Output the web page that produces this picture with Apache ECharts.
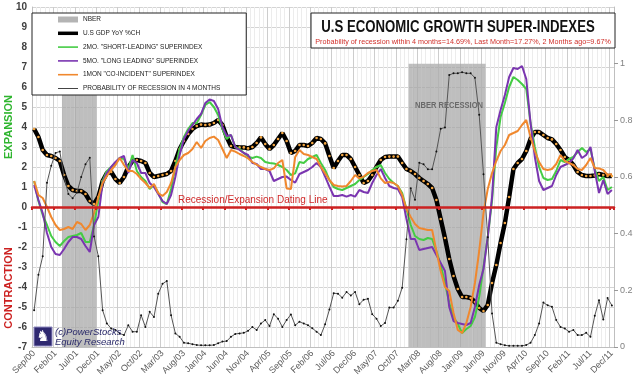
<!DOCTYPE html>
<html><head><meta charset="utf-8">
<script src="https://cdn.jsdelivr.net/npm/echarts@6/dist/echarts.min.js"></script>
<style>html,body{margin:0;padding:0;background:#fff}#c{width:640px;height:388px}</style>
</head><body><div id="c"></div>
<script>
// ---- categories (monthly, Sep/00 .. Dec/11) ----
const monthNames = ['Jan','Feb','Mar','Apr','May','Jun','Jul','Aug','Sep','Oct','Nov','Dec'];
const categories = [];
for (let k = 0; k < 136; k++) {
  const m = (8 + k) % 12, y = Math.floor((8 + k) / 12);
  categories.push(monthNames[m] + '/' + String(y).padStart(2, '0'));
}
// ---- NBER recession flags (secondary axis) ----
const nberMonths = [[7,14],[88,105]];
const nber = categories.map((c,i)=> nberMonths.some(r=>i>=r[0]&&i<=r[1]) ? 1 : 0);
// ---- series values ----
const gdp = [3.9,3.5,2.85,2.6,2.55,2.45,2.3,1.6,1.05,0.85,0.8,0.8,0.65,0.3,0.15,0.5,1.3,1.7,1.75,1.4,
1.2,1.5,2.0,2.3,2.35,2.3,2.2,1.7,1.5,1.55,1.6,1.65,1.8,2.3,2.9,3.3,3.65,3.9,4.05,4.12,
4.1,4.12,4.2,4.35,4.1,3.5,3.05,3.0,2.98,2.98,2.93,3.0,3.2,3.48,3.15,2.9,3.1,3.4,3.7,3.3,
2.7,2.8,3.1,3.1,3.05,3.2,3.45,3.4,3.18,2.55,1.95,2.3,2.6,2.6,2.4,2.0,1.6,1.2,1.3,1.6,
2.0,2.35,2.5,2.52,2.52,2.52,2.2,1.9,1.8,1.65,1.45,1.3,1.15,0.95,0.35,-0.6,-1.55,-2.6,-3.45,-4.1,
-4.5,-4.5,-4.55,-4.75,-5.05,-5.2,-4.9,-3.8,-2.9,-1.8,-0.8,0.5,1.9,2.2,2.4,2.8,3.4,3.75,3.75,3.6,
3.45,3.38,3.15,2.85,2.5,2.35,2.1,1.75,1.6,1.55,1.55,1.58,1.65,1.6,1.55,1.55];
const shortLeading = [1.3,0.3,-0.4,-0.9,-1.45,-1.75,-1.95,-1.7,-1.5,-1.45,-1.4,-1.3,-1.75,-1.75,-0.9,0.3,1.3,1.8,2.0,2.2,
2.45,2.4,1.9,2.6,1.8,1.5,1.3,0.9,1.1,0.7,0.25,0.15,0.9,2.0,2.9,3.5,3.9,4.2,4.2,4.6,
5.1,5.25,5.0,4.6,3.9,3.4,3.6,3.0,2.9,2.7,2.52,2.45,2.52,2.45,2.25,2.2,2.18,2.1,2.0,1.85,
1.6,1.68,2.25,2.2,2.4,2.5,2.6,2.2,1.85,1.35,1.0,0.9,0.85,0.95,1.05,1.15,1.35,1.5,1.65,1.85,
2.0,2.1,1.7,1.4,1.2,1.05,0.7,-0.1,-0.9,-1.45,-1.6,-1.65,-1.55,-1.6,-2.2,-2.9,-3.8,-4.8,-5.5,-5.85,
-6.3,-6.1,-5.95,-5.5,-4.5,-3.0,-1.5,0.3,3.0,4.5,5.2,6.0,6.5,6.35,6.15,5.9,4.2,3.0,2.0,1.45,
1.35,1.4,1.8,2.35,2.25,2.4,2.5,2.75,2.95,2.75,2.9,1.9,1.3,1.5,0.85,1.0];
const longLeading = [1.1,0.35,-0.3,-1.3,-2.0,-2.35,-2.4,-2.1,-1.75,-1.5,-1.5,-1.6,-1.95,-2.25,-0.9,-0.5,1.2,1.7,2.0,2.25,
2.45,2.55,1.7,2.35,2.2,1.7,1.7,1.2,1.0,0.65,0.3,0.15,0.6,1.5,2.6,3.4,3.8,4.1,4.4,4.65,
5.2,5.38,5.3,4.9,4.0,3.55,3.6,3.0,2.85,2.7,2.6,2.2,2.15,1.9,1.9,1.8,1.3,1.4,1.5,1.52,
1.35,1.22,1.65,1.75,1.85,2.0,2.2,2.0,1.52,1.02,0.55,0.55,0.6,0.52,0.6,0.52,0.85,0.75,0.7,1.2,
1.6,1.9,1.45,1.05,0.95,0.9,0.5,-0.6,-1.6,-1.6,-2.15,-2.1,-2.05,-2.0,-2.4,-2.8,-3.2,-5.0,-5.7,-5.8,
-5.85,-5.9,-5.8,-5.0,-3.9,-3.1,-1.5,0.5,4.0,4.85,5.6,6.5,6.95,6.9,7.05,6.4,4.2,2.5,1.3,0.85,
0.95,1.05,1.6,2.0,2.1,2.2,2.43,2.85,2.45,2.6,3.0,1.8,0.7,1.35,0.65,0.85];
const coincident = [1.3,0.6,0.45,0.0,-0.5,-0.9,-1.15,-1.1,-1.0,-1.1,-0.75,-0.85,-1.15,-0.9,-0.3,0.5,1.2,1.55,1.85,2.1,
2.45,2.1,1.8,1.8,1.65,1.4,1.2,0.95,1.15,0.7,0.55,0.75,1.2,2.0,2.35,2.6,2.7,2.9,3.25,2.95,
3.3,3.45,3.52,3.35,2.9,2.45,2.85,2.77,2.65,2.55,2.43,2.25,2.12,2.0,1.9,1.85,1.93,2.2,2.35,0.93,
0.9,2.5,2.85,2.65,2.6,2.5,2.4,2.0,1.68,1.35,1.1,1.05,1.02,1.05,1.3,1.6,1.43,1.52,1.7,1.8,
1.85,1.43,1.2,1.25,1.2,1.05,0.6,-0.1,-0.5,-0.85,-1.05,-1.1,-1.15,-1.15,-2.2,-3.2,-4.0,-4.2,-5.3,-6.15,
-6.3,-5.8,-5.0,-3.8,-2.2,-0.3,0.9,1.7,2.3,2.8,3.1,3.6,3.7,3.8,4.1,4.35,3.5,2.8,2.25,1.9,
1.85,1.9,2.15,2.6,2.3,2.2,2.1,1.9,1.85,2.1,2.45,1.95,1.93,1.85,1.6,1.65];
const recessionProb = [0.13,0.255,0.32,0.58,0.64,0.685,0.69,0.6,0.54,0.525,0.545,0.6,0.645,0.668,0.39,0.32,0.13,0.083,0.065,0.06,
0.048,0.042,0.077,0.054,0.054,0.112,0.071,0.124,0.106,0.188,0.223,0.233,0.112,0.048,0.036,0.015,0.013,0.01,0.007,0.006,
0.006,0.006,0.007,0.013,0.019,0.021,0.036,0.046,0.048,0.05,0.057,0.071,0.06,0.083,0.095,0.074,0.116,0.1,0.071,0.095,
0.115,0.077,0.089,0.083,0.077,0.066,0.054,0.042,0.08,0.132,0.19,0.188,0.174,0.194,0.182,0.194,0.151,0.167,0.17,0.116,
0.1,0.074,0.085,0.139,0.139,0.163,0.209,0.38,0.56,0.52,0.65,0.645,0.627,0.627,0.69,0.77,0.775,0.96,0.966,0.966,
0.97,0.966,0.966,0.95,0.82,0.61,0.387,0.118,0.015,0.01,0.006,0.004,0.004,0.004,0.004,0.007,0.015,0.042,0.083,0.157,
0.147,0.142,0.095,0.071,0.065,0.054,0.06,0.042,0.042,0.05,0.036,0.11,0.165,0.0967,0.1727,0.1469];
// ---- axis ticks ----
const leftMin = -7, leftMax = 10, leftStep = 1;
const rightMin = 0, rightMax = 1.2, rightStep = 0.2;

const names = ['NBER','U.S GDP YoY %CH','2MO. "SHORT-LEADING" SUPERINDEX','5MO. "LONG LEADING" SUPERINDEX','1MON "CO-INCIDENT" SUPERINDEX','PROBABILITY OF RECESSION IN 4 MONTHS'];
const sans = "'Liberation Sans',Arial,sans-serif";
const lineIcon = h => 'path://M0,0 L20,0 L20,' + h + ' L0,' + h + ' Z';
const legendData = [
  {name: names[0], icon: lineIcon(6), itemStyle: {color: '#b4b4b4'}},
  {name: names[1], icon: lineIcon(3.5), itemStyle: {color: '#000'}},
  {name: names[2], icon: lineIcon(1.6), itemStyle: {color: '#44cc44'}},
  {name: names[3], icon: lineIcon(1.6), itemStyle: {color: '#7a35b0'}},
  {name: names[4], icon: lineIcon(1.6), itemStyle: {color: '#f0882e'}},
  {name: names[5], icon: lineIcon(1), itemStyle: {color: '#444'}}
];

const chart = echarts.init(document.getElementById('c'));
chart.setOption({
  animation: false,
  backgroundColor: '#fff',
  grid: {left: 32, right: 26, top: 7, bottom: 41},
  legend: {
    data: legendData, orient: 'vertical', left: 32, top: 13,
    backgroundColor: '#fff', borderColor: '#222', borderWidth: 1,
    padding: [3, 26, 3, 26], itemGap: 6.8, itemWidth: 20, itemHeight: 6, symbolKeepAspect: true,
    textStyle: {fontSize: 6.5, color: '#222', fontFamily: sans},
    selectedMode: false
  },
  xAxis: [
    {type: 'category', data: categories, position: 'bottom', z: 10,
     axisLine: {onZero: true, onZeroAxisIndex: 0, lineStyle: {color: '#cc2222', width: 2.5}},
     axisTick: {show: true, interval: 4, length: 3, lineStyle: {color: '#cc2222', width: 2}},
     axisLabel: {show: false}, splitLine: {show: false}},
    {type: 'category', data: categories, position: 'bottom',
     axisLine: {onZero: false, lineStyle: {color: '#bfbfbf'}},
     axisTick: {show: false},
     axisLabel: {interval: 4, rotate: 45, fontSize: 9, color: '#595959', margin: 5, fontFamily: sans},
     splitLine: {show: true, interval: 0, lineStyle: {color: '#ececec', width: 1}}},
    {type: 'category', data: categories, position: 'bottom',
     axisLine: {show: false, onZero: false}, axisTick: {show: false}, axisLabel: {show: false},
     splitLine: {show: true, interval: 4, lineStyle: {color: '#cdcdcd', width: 1}}}
  ],
  yAxis: [
    {type: 'value', min: leftMin, max: leftMax, interval: leftStep,
     axisLine: {show: true, lineStyle: {color: '#bfbfbf'}}, axisTick: {show: false},
     axisLabel: {fontSize: 10, fontWeight: 'bold', color: '#404040', margin: 5},
     splitLine: {lineStyle: {color: '#d4d4d4'}}},
    {type: 'value', min: rightMin, max: rightMax, interval: rightStep, position: 'right',
     axisLine: {show: true, lineStyle: {color: '#bfbfbf'}},
     axisTick: {show: true, length: 4, lineStyle: {color: '#999'}},
     axisLabel: {fontSize: 9, color: '#808080', margin: 6, showMaxLabel: false,
       formatter: v => String(+v.toFixed(1))},
     splitLine: {show: false}}
  ],
  series: [
    {name: names[0], type: 'bar', xAxisIndex: 1, yAxisIndex: 1, data: nber,
     barCategoryGap: '0%', barGap: '0%', itemStyle: {color: 'rgba(165,165,165,0.72)'}, z: 1, silent: true},
    {name: names[1], type: 'line', xAxisIndex: 1, yAxisIndex: 0, data: gdp,
     lineStyle: {color: '#000', width: 4.5}, symbol: 'circle', symbolSize: 2.6, showAllSymbol: true,
     itemStyle: {color: '#f5a742'}, z: 3},
    {name: names[2], type: 'line', xAxisIndex: 1, yAxisIndex: 0, data: shortLeading,
     lineStyle: {color: '#44cc44', width: 2}, itemStyle: {color: '#44cc44'}, symbol: 'none', z: 4},
    {name: names[3], type: 'line', xAxisIndex: 1, yAxisIndex: 0, data: longLeading,
     lineStyle: {color: '#7a35b0', width: 2}, itemStyle: {color: '#7a35b0'}, symbol: 'none', z: 4},
    {name: names[4], type: 'line', xAxisIndex: 1, yAxisIndex: 0, data: coincident,
     lineStyle: {color: '#f0882e', width: 2}, itemStyle: {color: '#f0882e'}, symbol: 'none', z: 4},
    {name: names[5], type: 'line', xAxisIndex: 1, yAxisIndex: 1, data: recessionProb,
     lineStyle: {color: '#555', width: 1}, symbol: 'circle', symbolSize: 2, showAllSymbol: true,
     itemStyle: {color: '#111'}, z: 5}
  ],
  graphic: [
    {type: 'rect', shape: {x: 311, y: 13, width: 304, height: 35}, style: {fill: '#fff', stroke: '#222', lineWidth: 1}, z: 20},
    {type: 'text', x: 458, y: 27, scaleX: 0.8, z: 21, style: {text: 'U.S ECONOMIC GROWTH SUPER-INDEXES', fontSize: 16.5, fontWeight: 'bold',
      fontFamily: sans, fill: '#111', align: 'center', verticalAlign: 'middle'}},
    {type: 'text', x: 463, y: 42, scaleX: 0.9, z: 21, style: {text: 'Probability of recession within 4 months=14.69%, Last Month=17.27%, 2 Months ago=9.67%',
      fontSize: 8, fontFamily: sans, fill: '#d0302a', align: 'center', verticalAlign: 'middle'}},
    {type: 'text', x: 9, y: 127, rotation: Math.PI / 2, z: 21, style: {text: 'EXPANSION', fontSize: 11, fontWeight: 'bold',
      fill: '#2fb52f', align: 'center', verticalAlign: 'middle', fontFamily: sans}},
    {type: 'text', x: 9, y: 288, rotation: Math.PI / 2, z: 21, style: {text: 'CONTRACTION', fontSize: 11, fontWeight: 'bold',
      fill: '#cc2020', align: 'center', verticalAlign: 'middle', fontFamily: sans}},
    {type: 'text', x: 178, y: 200, z: 21, style: {text: 'Recession/Expansion Dating Line', fontSize: 10,
      fill: '#d02a2a', align: 'left', verticalAlign: 'middle', fontFamily: sans}},
    {type: 'text', x: 449, y: 106, scaleX: 0.84, z: 21, style: {text: 'NBER RECESSION', fontSize: 9, fontWeight: 'bold',
      fill: '#6a6a6a', align: 'center', verticalAlign: 'middle', fontFamily: sans}},
    {type: 'rect', shape: {x: 34, y: 327, width: 18, height: 19}, style: {fill: '#2e2870', stroke: '#8f8ac0', lineWidth: 1}, z: 20},
    {type: 'text', x: 43, y: 337, z: 21, style: {text: '\u265E', fontSize: 15, fill: '#fff', align: 'center', verticalAlign: 'middle',
      fontFamily: "'DejaVu Sans',sans-serif"}},
    {type: 'text', x: 55, y: 332, z: 21, style: {text: '(c)PowerStocks', fontSize: 9.5, fontStyle: 'italic',
      fill: '#2a2a6a', align: 'left', verticalAlign: 'middle', fontFamily: sans}},
    {type: 'text', x: 55, y: 342, z: 21, style: {text: 'Equity Research', fontSize: 9.5, fontStyle: 'italic',
      fill: '#2a2a6a', align: 'left', verticalAlign: 'middle', fontFamily: sans}}
  ]
});
</script></body></html>
